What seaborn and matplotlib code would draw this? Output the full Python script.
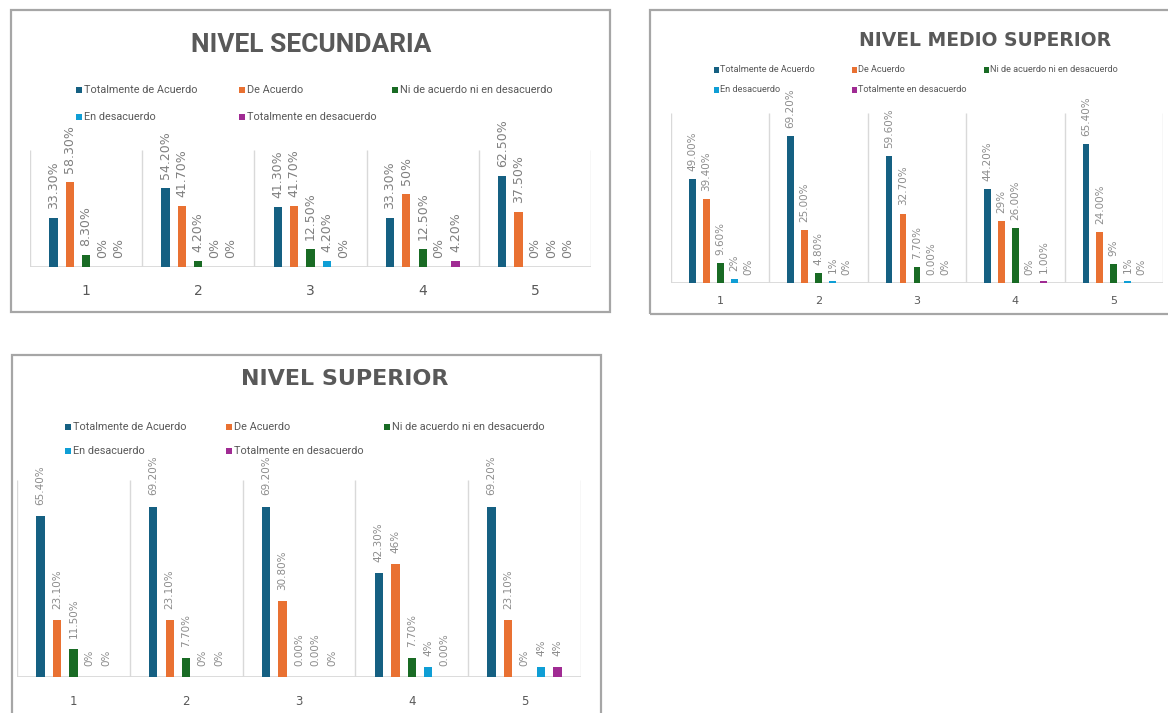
import matplotlib
matplotlib.use("Agg")
import numpy as np
import pandas as pd
import seaborn as sns
import matplotlib.pyplot as plt
from matplotlib.patches import Rectangle
from matplotlib import font_manager

# ---------------------------------------------------------------- data
CATEGORIES = ["1", "2", "3", "4", "5"]
SERIES = [
    "Totalmente de Acuerdo",
    "De Acuerdo",
    "Ni de acuerdo ni en desacuerdo",
    "En desacuerdo",
    "Totalmente en desacuerdo",
]
COLORS = ["#156082", "#E97132", "#196B24", "#0F9ED5", "#A02B93"]

# Nivel secundaria
SEC_TOTAL_ACUERDO = ["33.30%", "54.20%", "41.30%", "33.30%", "62.50%"]
SEC_ACUERDO = ["58.30%", "41.70%", "41.70%", "50%", "37.50%"]
SEC_NEUTRO = ["8.30%", "4.20%", "12.50%", "12.50%", "0%"]
SEC_DESACUERDO = ["0%", "0%", "4.20%", "0%", "0%"]
SEC_TOTAL_DESACUERDO = ["0%", "0%", "0%", "4.20%", "0%"]

# Nivel medio superior
MED_TOTAL_ACUERDO = ["49.00%", "69.20%", "59.60%", "44.20%", "65.40%"]
MED_ACUERDO = ["39.40%", "25.00%", "32.70%", "29%", "24.00%"]
MED_NEUTRO = ["9.60%", "4.80%", "7.70%", "26.00%", "9%"]
MED_DESACUERDO = ["2%", "1%", "0.00%", "0%", "1%"]
MED_TOTAL_DESACUERDO = ["0%", "0%", "0%", "1.00%", "0%"]

# Nivel superior
SUP_TOTAL_ACUERDO = ["65.40%", "69.20%", "69.20%", "42.30%", "69.20%"]
SUP_ACUERDO = ["23.10%", "23.10%", "30.80%", "46%", "23.10%"]
SUP_NEUTRO = ["11.50%", "7.70%", "0.00%", "7.70%", "0%"]
SUP_DESACUERDO = ["0%", "0%", "0.00%", "4%", "4%"]
SUP_TOTAL_DESACUERDO = ["0%", "0%", "0%", "0.00%", "4%"]

# ---------------------------------------------------------------- style
W, H = 1168, 713
sns.set_style("white")
avail = {f.name for f in font_manager.fontManager.ttflist}
NARROW = "Liberation Sans Narrow" if "Liberation Sans Narrow" in avail else "Roboto"
plt.rcParams["font.family"] = ["DejaVu Sans"]

TEXT_GREY = "#595959"
GRID_GREY = "#D9D9D9"
FRAME_GREY = "#A6A6A6"


def fx(x):
    return x / W


def fy(y):
    return 1 - y / H


def long_frame(series_labels):
    rows = []
    for name, labels in zip(SERIES, series_labels):
        for cat, lab in zip(CATEGORIES, labels):
            rows.append({"pregunta": cat, "respuesta": name,
                         "valor": float(lab.rstrip("%"))})
    return pd.DataFrame(rows)


def draw_panel(fig, series_labels, cfg):
    # chart frame
    fx0, fy0, fx1, fy1 = cfg["frame"]
    fig.add_artist(Rectangle((fx(fx0), fy(fy1)), fx(fx1 - fx0), (fy1 - fy0) / H,
                             transform=fig.transFigure, fill=False,
                             edgecolor=FRAME_GREY, lw=1.6, zorder=0))
    # plot area
    x0, y0, x1, y1 = cfg["plot"]
    ax = fig.add_axes([fx(x0), fy(y1), (x1 - x0) / W, (y1 - y0) / H])
    df = long_frame(series_labels)
    sns.barplot(data=df, x="pregunta", y="valor", hue="respuesta",
                order=CATEGORIES, hue_order=SERIES, palette=COLORS,
                saturation=1, width=cfg["width"], gap=cfg["gap"],
                errorbar=None, linewidth=0, legend=False, ax=ax, zorder=3)
    for cont, labels in zip(ax.containers, series_labels):
        ax.bar_label(cont, labels=labels, rotation=90, padding=cfg["pad"],
                     fontsize=cfg["label_size"], color=cfg["label_color"],
                     family="DejaVu Sans")
    ax.set_xlim(-0.5, len(CATEGORIES) - 0.5)
    ax.set_ylim(0, 80)
    ax.vlines(np.arange(len(CATEGORIES) + 1) - 0.5, 0, 80,
              colors=GRID_GREY, lw=1.0, zorder=1)
    ax.axhline(0, color=GRID_GREY, lw=1.3, zorder=2)
    for s in ax.spines.values():
        s.set_visible(False)
    ax.set_yticks([])
    ax.set_xlabel("")
    ax.set_ylabel("")
    ax.tick_params(axis="x", length=0, pad=cfg["tick_pad"],
                   labelsize=cfg["tick_size"], labelcolor=TEXT_GREY)
    ax.patch.set_alpha(0)

    # title
    tx, ty = cfg["title_xy"]
    fig.text(fx(tx), fy(ty), cfg["title"], ha="center", va="center",
             fontsize=cfg["title_size"], fontweight="bold", color=TEXT_GREY,
             family=cfg["title_font"])

    # legend, two rows of three columns
    cols = cfg["legend_cols"]
    rows = cfg["legend_rows"]
    ms = cfg["legend_marker"]
    for i, (name, color) in enumerate(zip(SERIES, COLORS)):
        mx, my = cols[i % 3], rows[i // 3]
        fig.add_artist(Rectangle((fx(mx - ms / 2), fy(my + ms / 2)), ms / W, ms / H,
                                 transform=fig.transFigure, color=color, lw=0))
        fig.text(fx(mx + ms / 2 + 2), fy(my), name, ha="left", va="center",
                 fontsize=cfg["legend_size"], color=TEXT_GREY, family=NARROW)
    return ax


fig = plt.figure(figsize=(W / 100, H / 100), dpi=100)
fig.patch.set_facecolor("white")

draw_panel(fig, [SEC_TOTAL_ACUERDO, SEC_ACUERDO, SEC_NEUTRO,
                 SEC_DESACUERDO, SEC_TOTAL_DESACUERDO], dict(
    frame=(11, 10, 610, 312), plot=(30, 150, 591, 267),
    width=0.73, gap=0.49, pad=6.5, label_size=9, label_color="#7F7F7F",
    tick_pad=12, tick_size=10,
    title="NIVEL SECUNDARIA", title_xy=(311, 45), title_size=19,
    title_font=NARROW,
    legend_cols=(79, 242, 395), legend_rows=(90, 117), legend_marker=6,
    legend_size=7.8))

draw_panel(fig, [MED_TOTAL_ACUERDO, MED_ACUERDO, MED_NEUTRO,
                 MED_DESACUERDO, MED_TOTAL_DESACUERDO], dict(
    frame=(650, 10, 1340, 314), plot=(671, 113, 1163, 283),
    width=0.71, gap=0.52, pad=5.8, label_size=7.5, label_color="#8C8C8C",
    tick_pad=9, tick_size=8,
    title="NIVEL MEDIO SUPERIOR", title_xy=(985, 40), title_size=13.5,
    title_font="DejaVu Sans",
    legend_cols=(716, 854, 986), legend_rows=(70, 90), legend_marker=5,
    legend_size=6.6))

draw_panel(fig, [SUP_TOTAL_ACUERDO, SUP_ACUERDO, SUP_NEUTRO,
                 SUP_DESACUERDO, SUP_TOTAL_DESACUERDO], dict(
    frame=(12, 355, 601, 730), plot=(17, 480, 581, 677),
    width=0.73, gap=0.49, pad=8, label_size=7.5, label_color="#8C8C8C",
    tick_pad=13, tick_size=8.5,
    title="NIVEL SUPERIOR", title_xy=(345, 379), title_size=16,
    title_font="DejaVu Sans",
    legend_cols=(68, 229, 387), legend_rows=(427, 451), legend_marker=6,
    legend_size=7.8))

fig.savefig("out.png", dpi=100, facecolor="white")
